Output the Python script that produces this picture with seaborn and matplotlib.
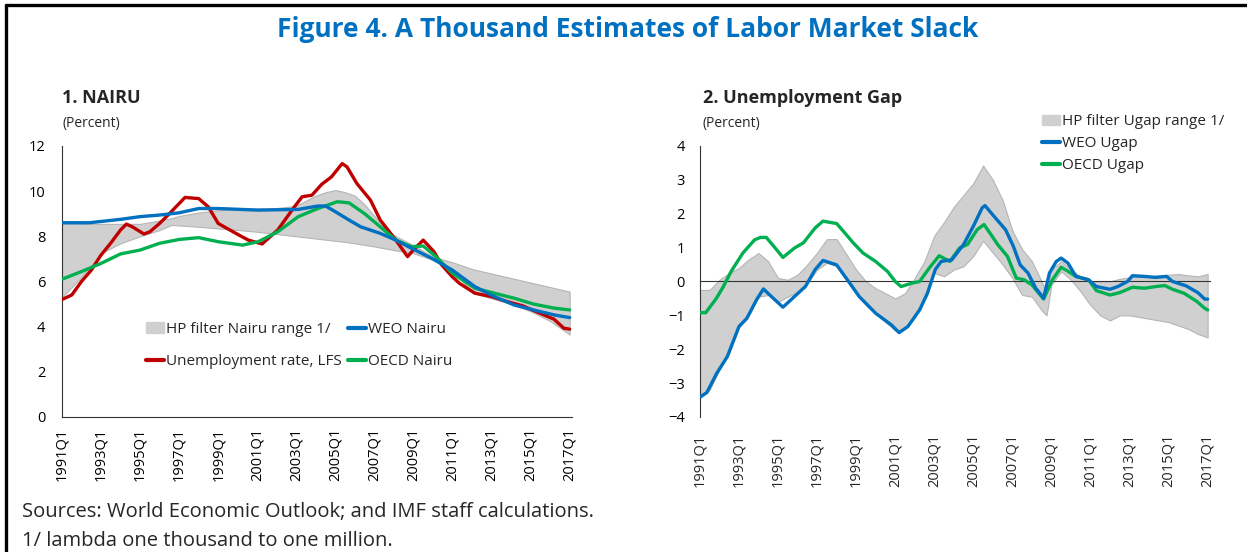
import numpy as np
import pandas as pd
import seaborn as sns
import matplotlib
matplotlib.use("Agg")
import matplotlib.pyplot as plt
from matplotlib.lines import Line2D
from matplotlib.patches import Patch

# ---- panel 1: NAIRU (decimal years, percent) ----
unemp_years = [1991.0, 1991.25, 1991.5, 1992.0, 1992.5, 1993.0, 1993.5, 1994.0, 1994.3, 1994.6,
               1995.2, 1995.5, 1996.0, 1996.5, 1997.0, 1997.3, 1998.0, 1998.5, 1999.0, 2000.05,
               2000.55, 2001.25, 2002.05, 2002.9, 2003.3, 2003.8, 2004.3, 2004.8, 2005.35, 2005.6,
               2006.1, 2006.8, 2007.3, 2008.1, 2008.7, 2009.0, 2009.5, 2010.05, 2010.45, 2011.0,
               2011.35, 2012.15, 2013.0, 2013.8, 2014.6, 2015.4, 2016.2, 2016.7, 2017.0]
unemp_rate = [5.2, 5.3, 5.4, 6.0, 6.5, 7.17, 7.7, 8.28, 8.54, 8.42,
              8.1, 8.2, 8.57, 9.0, 9.45, 9.72, 9.67, 9.3, 8.57, 8.06,
              7.83, 7.66, 8.28, 9.3, 9.75, 9.82, 10.3, 10.63, 11.22, 11.07,
              10.34, 9.6, 8.72, 7.83, 7.1, 7.4, 7.83, 7.32, 6.73, 6.2,
              5.92, 5.48, 5.33, 5.11, 4.92, 4.62, 4.33, 3.93, 3.89]

weo_nairu_years = [1991.0, 1992.4, 1994.0, 1995.0, 1996.0, 1997.0, 1998.0, 1999.0, 2001.05, 2003.1,
                   2004.1, 2004.5, 2005.0, 2005.7, 2006.3, 2007.3, 2008.1, 2008.9, 2009.95, 2011.0,
                   2012.15, 2013.15, 2014.15, 2015.15, 2016.2, 2017.0]
weo_nairu = [8.6, 8.6, 8.75, 8.87, 8.94, 9.04, 9.23, 9.23, 9.16, 9.19,
             9.34, 9.34, 9.09, 8.72, 8.42, 8.13, 7.83, 7.47, 7.02, 6.5,
             5.77, 5.33, 4.96, 4.74, 4.52, 4.4]

oecd_nairu_years = [1991.0, 1992.0, 1993.0, 1994.0, 1995.0, 1996.0, 1997.0, 1998.0, 1999.0, 2000.25,
                    2001.05, 2002.05, 2003.1, 2004.1, 2005.1, 2005.7, 2006.5, 2007.3, 2008.1, 2008.9,
                    2009.5, 2010.15, 2011.0, 2012.15, 2013.15, 2014.15, 2015.15, 2016.2, 2017.0]
oecd_nairu = [6.1, 6.44, 6.8, 7.22, 7.39, 7.69, 7.86, 7.94, 7.76, 7.61,
              7.76, 8.2, 8.87, 9.23, 9.53, 9.48, 9.0, 8.42, 7.83, 7.54,
              7.57, 7.1, 6.36, 5.7, 5.48, 5.26, 5.0, 4.82, 4.74]

hp_nairu_years = [1991.0, 1992.0, 1993.0, 1994.0, 1995.0, 1996.0, 1996.6, 1997.0, 1998.0, 1999.0,
                  2000.0, 2001.0, 2002.0, 2003.0, 2004.0, 2004.5, 2005.0, 2005.5, 2006.0, 2006.5,
                  2007.0, 2007.5, 2008.0, 2009.0, 2010.0, 2011.0, 2012.0, 2013.0, 2014.0, 2015.0,
                  2016.0, 2017.0]
hp_nairu_hi = [8.57, 8.55, 8.55, 8.55, 8.55, 8.7, 8.8, 8.9, 9.05, 9.15,
               9.2, 9.22, 9.25, 9.35, 9.8, 9.95, 10.05, 9.95, 9.8, 9.4,
               8.9, 8.4, 8.05, 7.6, 7.1, 6.85, 6.55, 6.35, 6.15, 5.95,
               5.75, 5.55]
hp_nairu_lo = [5.3, 6.2, 7.25, 7.69, 8.0, 8.28, 8.5, 8.48, 8.42, 8.35,
               8.28, 8.2, 8.1, 8.0, 7.9, 7.85, 7.8, 7.75, 7.69, 7.62,
               7.55, 7.47, 7.39, 7.25, 6.95, 6.5, 5.5, 5.25, 5.0, 4.68,
               4.25, 3.65]

# ---- panel 2: unemployment gap ----
weo_ugap_years = [1991.0, 1991.35, 1991.85, 1992.4, 1993.0, 1993.4, 1993.9, 1994.25, 1994.65, 1995.25,
                  1995.85, 1996.4, 1996.9, 1997.3, 1998.0, 1998.55, 1999.15, 2000.0, 2000.8, 2001.2,
                  2001.65, 2002.25, 2002.65, 2003.05, 2003.35, 2003.9, 2004.5, 2005.0, 2005.45, 2005.6,
                  2006.05, 2006.65, 2007.05, 2007.4, 2007.8, 2008.2, 2008.6, 2008.9, 2009.25, 2009.5,
                  2009.85, 2010.25, 2010.9, 2011.3, 2012.0, 2012.4, 2012.9, 2013.15, 2013.75, 2014.35,
                  2014.9, 2015.2, 2015.9, 2016.5, 2016.85, 2017.0]
weo_ugap = [-3.41, -3.28, -2.72, -2.22, -1.33, -1.09, -0.54, -0.22, -0.44, -0.76,
            -0.44, -0.15, 0.35, 0.62, 0.49, 0.05, -0.44, -0.94, -1.28, -1.51,
            -1.33, -0.84, -0.35, 0.35, 0.59, 0.64, 1.09, 1.63, 2.17, 2.24,
            1.93, 1.53, 1.04, 0.49, 0.25, -0.2, -0.49, 0.25, 0.59, 0.69,
            0.54, 0.15, 0.05, -0.15, -0.23, -0.15, 0.0, 0.17, 0.15, 0.12,
            0.15, 0.0, -0.13, -0.33, -0.52, -0.52]

oecd_ugap_years = [1991.0, 1991.3, 1991.85, 1992.2, 1992.6, 1993.2, 1993.8, 1994.1, 1994.4, 1994.85,
                   1995.25, 1995.85, 1996.3, 1996.9, 1997.3, 1998.0, 1998.35, 1998.85, 1999.35, 2000.0,
                   2000.6, 2001.0, 2001.3, 2001.85, 2002.25, 2002.75, 2003.25, 2003.8, 2004.3, 2004.7,
                   2005.2, 2005.55, 2005.85, 2006.25, 2006.75, 2007.2, 2007.6, 2008.0, 2008.6, 2009.05,
                   2009.5, 2009.85, 2010.25, 2010.9, 2011.3, 2012.0, 2012.5, 2013.15, 2013.75, 2014.35,
                   2014.8, 2015.2, 2015.8, 2016.45, 2016.85, 2017.0]
oecd_ugap = [-0.92, -0.92, -0.49, -0.15, 0.3, 0.84, 1.23, 1.3, 1.3, 0.99,
             0.71, 0.99, 1.14, 1.58, 1.78, 1.71, 1.48, 1.14, 0.84, 0.59,
             0.3, 0.0, -0.15, -0.05, 0.0, 0.4, 0.76, 0.59, 0.99, 1.09,
             1.53, 1.68, 1.43, 1.09, 0.74, 0.1, 0.05, -0.1, -0.52, 0.05,
             0.42, 0.3, 0.15, 0.05, -0.27, -0.4, -0.33, -0.17, -0.2, -0.15,
             -0.12, -0.23, -0.35, -0.59, -0.79, -0.84]

hp_ugap_years = [1991.0, 1991.5, 1992.0, 1992.5, 1993.0, 1993.5, 1994.0, 1994.5, 1995.0, 1995.5,
                 1996.0, 1996.5, 1997.0, 1997.5, 1998.0, 1998.5, 1999.0, 1999.5, 2000.0, 2000.5,
                 2001.0, 2001.5, 2002.0, 2002.5, 2003.0, 2003.5, 2004.0, 2004.5, 2005.0, 2005.5,
                 2006.0, 2006.5, 2007.0, 2007.5, 2008.0, 2008.5, 2008.75, 2009.0, 2009.5, 2010.0,
                 2010.5, 2011.0, 2011.5, 2012.0, 2012.5, 2013.0, 2013.5, 2014.0, 2014.5, 2015.0,
                 2015.5, 2016.0, 2016.5, 2017.0]
hp_ugap_hi = [-0.25, -0.25, 0.05, 0.25, 0.4, 0.65, 0.84, 0.59, 0.1, 0.05,
              0.2, 0.5, 0.85, 1.25, 1.25, 0.8, 0.35, 0.0, -0.2, -0.35,
              -0.5, -0.35, 0.1, 0.6, 1.35, 1.75, 2.2, 2.55, 2.9, 3.42,
              3.0, 2.4, 1.5, 0.95, 0.6, 0.0, -0.35, 0.35, 0.6, 0.35,
              0.15, 0.0, 0.0, 0.0, 0.08, 0.12, 0.15, 0.15, 0.18, 0.2,
              0.22, 0.18, 0.15, 0.22]
hp_ugap_lo = [-3.45, -3.2, -2.6, -2.1, -1.35, -1.0, -0.45, -0.4, -0.6, -0.45,
              -0.3, -0.05, 0.35, 0.55, 0.45, 0.05, -0.35, -0.7, -0.95, -1.2,
              -1.45, -1.4, -1.05, -0.5, 0.25, 0.15, 0.35, 0.45, 0.75, 1.2,
              0.85, 0.5, 0.1, -0.4, -0.45, -0.85, -1.0, -0.1, 0.3, 0.05,
              -0.3, -0.7, -1.0, -1.15, -1.0, -1.0, -1.05, -1.1, -1.15, -1.2,
              -1.3, -1.4, -1.55, -1.65]

tick_years = list(range(1991, 2018))
label_years = list(range(1991, 2018, 2))
tick_labels = [f"{y}Q1" for y in label_years]

BLUE = "#0070C0"
RED = "#C00000"
GREEN = "#00B050"
BAND = "#D0D0D0"
BAND_EDGE = "#B5B5B5"

sns.set_style("white")
plt.rcParams["font.family"] = ["Open Sans", "DejaVu Sans"]
plt.rcParams["axes.edgecolor"] = "#333333"

fig = plt.figure(figsize=(12.47, 5.52), dpi=100)
ax1 = fig.add_axes([0.0497, 0.2446, 0.409, 0.491])
ax2 = fig.add_axes([0.5613, 0.2446, 0.409, 0.491])


def draw_band(ax, years, lo, hi):
    ax.fill_between(years, lo, hi, facecolor=BAND, edgecolor=BAND_EDGE, linewidth=0.8, zorder=1)


def draw_line(ax, years, values, color):
    d = pd.DataFrame({"year": years, "value": values})
    sns.lineplot(data=d, x="year", y="value", color=color, linewidth=2.4, ax=ax, zorder=3)


# panel 1
draw_band(ax1, hp_nairu_years, hp_nairu_lo, hp_nairu_hi)
draw_line(ax1, unemp_years, unemp_rate, RED)
draw_line(ax1, oecd_nairu_years, oecd_nairu, GREEN)
draw_line(ax1, weo_nairu_years, weo_nairu, BLUE)

ax1.set_xlim(1991, 2017.12)
ax1.set_ylim(0, 12)
ax1.set_yticks(range(0, 13, 2))
ax1.set_xticks(tick_years)
ax1.set_xticklabels([f"{y}Q1" if y in label_years else "" for y in tick_years], rotation=90)
ax1.tick_params(axis="both", direction="in", length=4, width=0.8, labelsize=10.5, colors="#333333",
                labelcolor="black")
ax1.tick_params(axis="y", pad=12)
ax1.tick_params(axis="x", pad=8)
ax1.spines[["top", "right"]].set_visible(False)
ax1.set_xlabel("")
ax1.set_ylabel("")

leg1 = [Patch(facecolor=BAND, edgecolor=BAND, label="HP filter Nairu range 1/"),
        Line2D([0], [0], color=RED, lw=3, label="Unemployment rate, LFS"),
        Line2D([0], [0], color=BLUE, lw=3, label="WEO Nairu"),
        Line2D([0], [0], color=GREEN, lw=3, label="OECD Nairu")]
ax1.legend(handles=leg1, ncol=2, loc="upper left", bbox_to_anchor=(0.165, 0.35), frameon=False,
           fontsize=11, handlelength=1.2, handletextpad=0.1, labelspacing=1.1, columnspacing=0.4,
           borderpad=0, borderaxespad=0)

# panel 2
draw_band(ax2, hp_ugap_years, hp_ugap_lo, hp_ugap_hi)
draw_line(ax2, oecd_ugap_years, oecd_ugap, GREEN)
draw_line(ax2, weo_ugap_years, weo_ugap, BLUE)

ax2.set_xlim(1991, 2017.12)
ax2.set_ylim(-4, 4)
ax2.set_yticks(range(-4, 5))
ax2.spines[["top", "right"]].set_visible(False)
ax2.spines["bottom"].set_position(("data", 0))
ax2.set_xticks(tick_years)
ax2.tick_params(axis="x", direction="in", length=4, width=0.8, labelbottom=False, colors="#333333")
ax2.tick_params(axis="y", direction="in", length=4, width=0.8, labelsize=10.5, pad=11, colors="#333333",
                labelcolor="black")
ax2.set_xlabel("")
ax2.set_ylabel("")
sec = ax2.secondary_xaxis("bottom")
sec.set_xticks(label_years)
sec.set_xticklabels(tick_labels, rotation=90)
sec.tick_params(length=0, labelsize=10.5, pad=12)
sec.spines["bottom"].set_visible(False)

leg2 = [Patch(facecolor=BAND, edgecolor=BAND, label="HP filter Ugap range 1/"),
        Line2D([0], [0], color=BLUE, lw=3, label="WEO Ugap"),
        Line2D([0], [0], color=GREEN, lw=3, label="OECD Ugap")]
ax2.legend(handles=leg2, loc="upper left", bbox_to_anchor=(0.67, 1.117), frameon=False,
           fontsize=11, handlelength=1.2, handletextpad=0.1, labelspacing=0.45,
           borderpad=0, borderaxespad=0)

# titles and notes
fig.text(0.503, 0.946, "Figure 4. A Thousand Estimates of Labor Market Slack", ha="center", va="center",
         fontsize=19, fontweight="bold", color=BLUE)
fig.text(0.0497, 0.822, "1. NAIRU", fontsize=13, fontweight="bold", va="center")
fig.text(0.0505, 0.776, "(Percent)", fontsize=10, va="center")
fig.text(0.5637, 0.822, "2. Unemployment Gap", fontsize=13, fontweight="bold", va="center")
fig.text(0.5637, 0.776, "(Percent)", fontsize=10, va="center")
fig.text(0.0176, 0.072, "Sources: World Economic Outlook; and IMF staff calculations.", fontsize=14.5,
         va="center")
fig.text(0.0176, 0.02, "1/ lambda one thousand to one million.", fontsize=14.5, va="center")

# frame lines (top and left)
fig.add_artist(Line2D([0.0048, 1.0], [0.991, 0.991], color="black", lw=2.4, transform=fig.transFigure))
fig.add_artist(Line2D([0.0048, 0.0048], [0.0, 0.991], color="black", lw=2.4, transform=fig.transFigure))

fig.savefig("out.png", dpi=100)
